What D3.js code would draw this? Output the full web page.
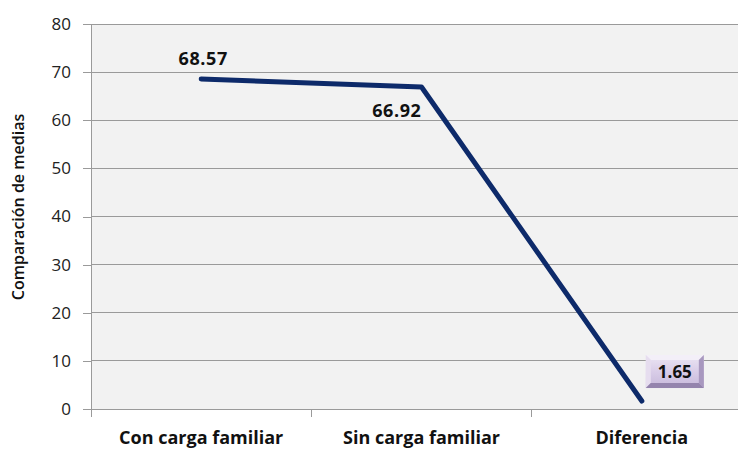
<!DOCTYPE html>
<html><head><meta charset="utf-8">
<script src="https://cdn.jsdelivr.net/npm/d3@7"></script>
<style>
html,body{margin:0;padding:0;background:#fff;overflow:hidden}
svg{display:block}
text{font-family:"Open Sans","Noto Sans",sans-serif}
</style></head>
<body>
<script>
const categories = ["Con carga familiar","Sin carga familiar","Diferencia"];
const values = [68.57, 66.92, 1.65];
const valueLabels = ["68.57","66.92","1.65"];
const yTicks = [0,10,20,30,40,50,60,70,80];
const yTitle = "Comparación de medias";

const W = 738, H = 450;
const m = {left:91, top:24, right:-14, bottom:41};
const svg = d3.select("body").append("svg").attr("width",W).attr("height",H);

const x = d3.scaleBand().domain(categories).range([m.left, W - m.right]).padding(0);
const y = d3.scaleLinear().domain([0,80]).range([H - m.bottom, m.top]);

const defs = svg.append("defs");
const g1 = defs.append("linearGradient").attr("id","boxg").attr("x1",0).attr("y1",0).attr("x2",0).attr("y2",1);
g1.append("stop").attr("offset","0%").attr("stop-color","#ece6f3");
g1.append("stop").attr("offset","50%").attr("stop-color","#d9cde8");
g1.append("stop").attr("offset","100%").attr("stop-color","#c6b8da");

// plot background
svg.append("rect").attr("x",m.left).attr("y",m.top)
  .attr("width",(W - m.right) - m.left).attr("height",y(0)-m.top).attr("fill","#f2f2f2");

// gridlines
svg.append("g").selectAll("line").data(yTicks.filter(d=>d>0)).join("line")
  .attr("x1",m.left).attr("x2",W - m.right).attr("y1",d=>y(d)).attr("y2",d=>y(d))
  .attr("stroke","#9a9a9a").attr("stroke-width",1).attr("shape-rendering","crispEdges");

// y axis
const yAxis = svg.append("g").attr("transform",`translate(${m.left},0)`)
  .call(d3.axisLeft(y).tickValues(yTicks).tickSize(8).tickPadding(12));
yAxis.select(".domain").attr("stroke","#9a9a9a").attr("shape-rendering","crispEdges");
yAxis.selectAll(".tick line").attr("stroke","#9a9a9a").attr("shape-rendering","crispEdges");
yAxis.selectAll(".tick text").attr("font-size",17).attr("fill","#222").style("font-family","'Open Sans',sans-serif");

// x axis
const xAxis = svg.append("g").attr("transform",`translate(0,${y(0)})`)
  .call(d3.axisBottom(x).tickSize(0).tickPadding(22));
xAxis.select(".domain").attr("stroke","#9a9a9a").attr("shape-rendering","crispEdges");
xAxis.selectAll(".tick text").attr("font-size",18).attr("font-weight","bold").attr("fill","#111")
  .style("font-family","'Open Sans',sans-serif");
// category boundary ticks
const bounds = categories.map(c=>x(c)).concat([x(categories[categories.length-1])+x.bandwidth()]);
svg.append("g").selectAll("line").data(bounds).join("line")
  .attr("x1",d=>d).attr("x2",d=>d).attr("y1",y(0)).attr("y2",y(0)+8)
  .attr("stroke","#9a9a9a").attr("shape-rendering","crispEdges");

// y title
svg.append("text").attr("transform",`translate(24,${207}) rotate(-90)`)
  .attr("text-anchor","middle").attr("font-size",16).attr("font-weight",600).attr("fill","#111")
  .text(yTitle);

// line
const cx = c => x(c) + x.bandwidth()/2;
const data = categories.map((c,i)=>({c, v:values[i], l:valueLabels[i]}));
svg.append("path").datum(data)
  .attr("d", d3.line().x(d=>cx(d.c)).y(d=>y(d.v)))
  .attr("fill","none").attr("stroke","#0d2a6a").attr("stroke-width",5)
  .attr("stroke-linecap","round").attr("stroke-linejoin","round");

// labels
svg.append("text").attr("x",cx(categories[0])+2).attr("y",y(values[0])-14)
  .attr("text-anchor","middle").attr("font-size",18).attr("font-weight","bold").attr("letter-spacing",0.6).attr("fill","#111").text(valueLabels[0]);
svg.append("text").attr("x",cx(categories[1])).attr("y",y(values[1])+30)
  .attr("text-anchor","end").attr("font-size",18).attr("font-weight","bold").attr("letter-spacing",0.6).attr("fill","#111").text(valueLabels[1]);

// boxed label for third
const bx = cx(categories[2]) + 4, by = y(values[2]) - 46, bw = 58, bh = 33;
const bg = svg.append("g");
bg.append("rect").attr("x",bx).attr("y",by).attr("width",bw).attr("height",bh).attr("fill","url(#boxg)");
// bevel edges
bg.append("polygon").attr("points",`${bx},${by} ${bx+bw},${by} ${bx+bw-5},${by+5} ${bx+5},${by+5}`).attr("fill","#f3eff8");
bg.append("polygon").attr("points",`${bx},${by} ${bx+5},${by+5} ${bx+5},${by+bh-5} ${bx},${by+bh}`).attr("fill","#e6ddef");
bg.append("polygon").attr("points",`${bx+bw},${by} ${bx+bw},${by+bh} ${bx+bw-5},${by+bh-5} ${bx+bw-5},${by+5}`).attr("fill","#a898bf");
bg.append("polygon").attr("points",`${bx},${by+bh} ${bx+bw},${by+bh} ${bx+bw-5},${by+bh-5} ${bx+5},${by+bh-5}`).attr("fill","#9484ad");
bg.append("text").attr("x",bx+bw/2).attr("y",by+bh/2+6).attr("text-anchor","middle")
  .attr("font-size",17).attr("font-weight","bold").attr("fill","#111").text(valueLabels[2]);
</script>
</body></html>
